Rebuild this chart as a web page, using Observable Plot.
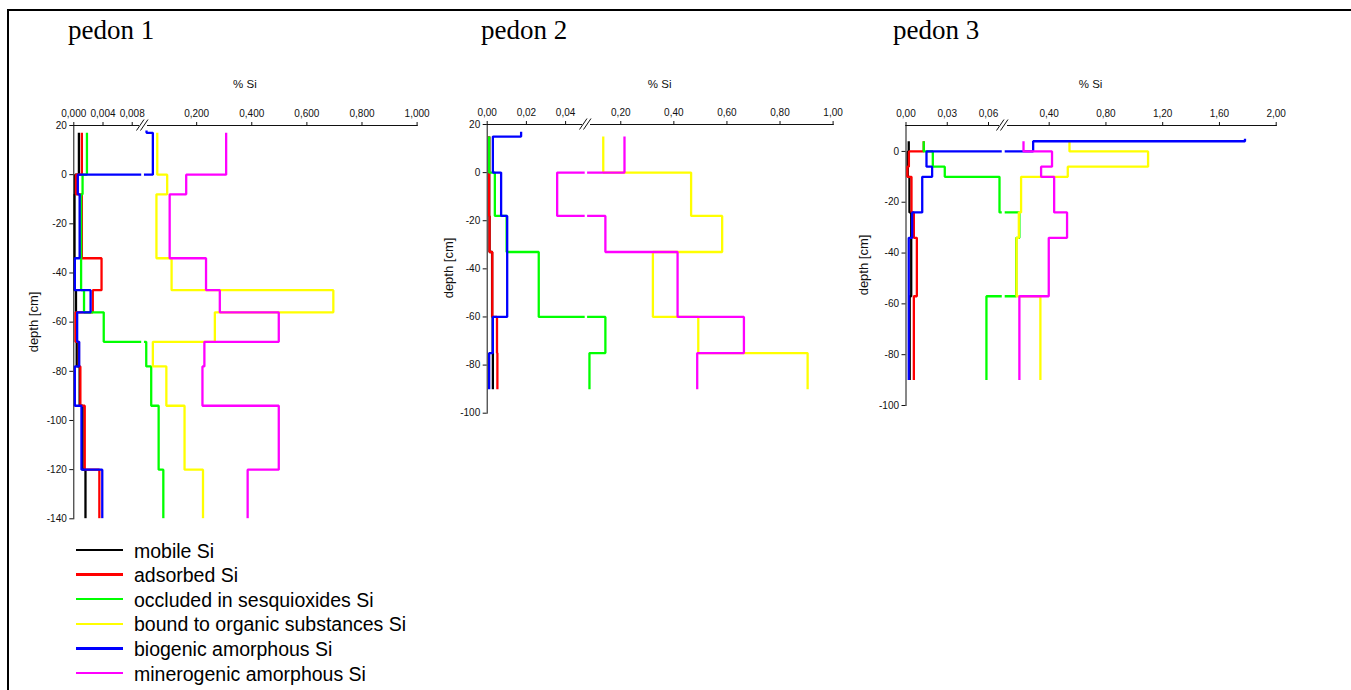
<!DOCTYPE html>
<html>
<head>
<meta charset="utf-8">
<script src="https://cdn.jsdelivr.net/npm/d3@7"></script>
<script src="https://cdn.jsdelivr.net/npm/@observablehq/plot@0.6"></script>
<style>
  html, body { margin: 0; padding: 0; background: #fff; }
  #page { position: relative; width: 1351px; height: 690px; overflow: hidden; background: #fff; }
  #frame { position: absolute; left: 7px; top: 9px; width: 1400px; height: 760px; border: 2px solid #000; box-sizing: border-box; }
  .panel { position: absolute; left: 0; top: 0; }
  .title { position: absolute; font-family: "Liberation Serif", "Times New Roman", serif; font-size: 27px; line-height: 27px; color: #000; white-space: nowrap; }
  .axlabel { position: absolute; font-family: "Liberation Sans", Arial, sans-serif; color: #111; white-space: nowrap; line-height: 1; }
  .lg-line { position: absolute; left: 76px; width: 47px; height: 2.5px; }
  .lg-text { position: absolute; left: 134px; font-family: "Liberation Sans", Arial, sans-serif; font-size: 19.5px; line-height: 20px; color: #000; white-space: nowrap; }
</style>
</head>
<body>
<div id="page">
  <div id="frame"></div>
</div>
<script>
// ---------- series ----------
const series = ["mobile Si", "adsorbed Si", "occluded in sesquioxides Si",
  "bound to organic substances Si", "biogenic amorphous Si", "minerogenic amorphous Si"];
const colors = ["#000000", "#ff0000", "#00ff00", "#ffff00", "#0000ff", "#ff00ff"];
const titles = ["pedon 1", "pedon 2", "pedon 3"];

// ---------- pedon 1 (horizon boundaries, cm; values % Si per horizon) ----------
const depths1 = [18, 17, 0, -8, -34, -47, -56, -68, -78, -94, -120, -140];
const mobile1 = [null, 0.0007, 0.0002, 0.0001, 0.0001, 0.0003, 0.0003, 0.0004, 0.0008, 0.0012, 0.0016];
const adsorbed1 = [null, 0.0011, 0.0003, 0.0011, 0.0038, 0.0026, 0.00024, 0.0007, 0.0009, 0.0015, 0.0035];
const occluded1 = [null, 0.0018, 0.0012, 0.001, 0.001, 0.0014, 0.0041, 0.017, 0.035, 0.062, 0.079];
const bound1 = [null, 0.057, 0.093, 0.054, 0.109, 0.696, 0.266, 0.041, 0.090, 0.156, 0.223];
const biogenic1 = [0.018, 0.041, 0.00055, 0.0008, 0.00014, 0.0023, 0.00046, 0.00074, 0.00014, 0.00105, 0.0039];
const minero1 = [null, 0.307, 0.162, 0.102, 0.234, 0.284, 0.498, 0.228, 0.221, 0.498, 0.385];

// ---------- pedon 2 ----------
const depths2 = [17, 15, 0, -18, -33, -60, -75, -90];
const mobile2 = [null, 0.001, 0.001, 0.0012, 0.0025, 0.0028, 0.0029];
const adsorbed2 = [null, 0.001, 0.001, 0.0012, 0.0026, 0.005, 0.0052];
const occluded2 = [null, 0.001, 0.0039, 0.0099, 0.0263, 0.142, 0.082];
const bound2 = [null, 0.134, 0.465, 0.582, 0.321, 0.492, 0.904];
const biogenic2 = [0.0173, 0.0029, 0.0071, 0.0102, 0.0102, 0.0029, 0.001];
const minero2 = [null, 0.214, 0.0357, 0.142, 0.414, 0.664, 0.488];

// ---------- pedon 3 ----------
const depths3 = [5, 4, 0, -6, -10, -24, -34, -57, -90];
const mobile3 = [null, 0.002, 0.0013, 0.0013, 0.0025, 0.0038, 0.0038, 0.0027];
const adsorbed3 = [null, 0.0129, 0.0021, 0.001, 0.004, 0.0057, 0.0079, 0.0057];
const occluded3 = [null, 0.0129, 0.0195, 0.0282, 0.068, 0.19, 0.168, 0.0585];
const bound3 = [null, 0.543, 1.097, 0.531, 0.202, 0.186, 0.17, 0.338];
const biogenic3 = [1.78, 0.287, 0.0149, 0.019, 0.0118, 0.0045, 0.002, 0.002];
const minero3 = [null, 0.219, 0.42, 0.343, 0.435, 0.526, 0.397, 0.19];

// ---------- axis ticks (low part and high part of each broken x axis) ----------
const xTicksLow1 = [0, 0.004, 0.008];
const xTicksHigh1 = [0.2, 0.4, 0.6, 0.8, 1.0];
const xTicksLow2 = [0, 0.02, 0.04];
const xTicksHigh2 = [0.2, 0.4, 0.6, 0.8, 1.0];
const xTicksLow3 = [0, 0.03, 0.06];
const xTicksHigh3 = [0.4, 0.8, 1.2, 1.6, 2.0];
const yTicks1 = [20, 0, -20, -40, -60, -80, -100, -120, -140];
const yTicks2 = [20, 0, -20, -40, -60, -80, -100];
const yTicks3 = [0, -20, -40, -60, -80, -100];

// ---------- layout ----------
const W = 1351, H = 690;
const panels = [
  { depths: depths1, values: [mobile1, adsorbed1, occluded1, bound1, biogenic1, minero1],
    low: { domain: [0, 0.0093], range: [73.3, 141.2], ticks: xTicksLow1 },
    high: { domain: [0.0105, 1.0], range: [143.95, 416.6], ticks: xTicksHigh1 },
    dec: 3, yDomain: [-140, 20], yTicks: yTicks1, top: 125, bottom: 518.3, labelDx: 40, titleX: 68 },
  { depths: depths2, values: [mobile2, adsorbed2, occluded2, bound2, biogenic2, minero2],
    low: { domain: [0, 0.05], range: [486.7, 584.7], ticks: xTicksLow2 },
    high: { domain: [0.075, 1.0], range: [587.1, 832.6], ticks: xTicksHigh2 },
    dec: 2, yDomain: [-100, 20], yTicks: yTicks2, top: 124, bottom: 412.7, labelDx: 39, titleX: 481 },
  { depths: depths3, values: [mobile3, adsorbed3, occluded3, bound3, biogenic3, minero3],
    low: { domain: [0, 0.07], range: [905.5, 1001.75], ticks: xTicksLow3 },
    high: { domain: [0.09, 2.0], range: [1004.7, 1275.7], ticks: xTicksHigh3 },
    dec: 2, yDomain: [-100, 10.2], yTicks: yTicks3, top: 125, bottom: 405, labelDx: 43, titleX: 893 }
];

const page = document.getElementById("page");
const font = "'Liberation Sans', Arial, sans-serif";

function addDiv(cls, text, css) {
  const d = document.createElement("div");
  d.className = cls;
  if (text != null) d.textContent = text;
  Object.assign(d.style, css);
  page.appendChild(d);
  return d;
}

panels.forEach((p, k) => {
  const data = [];
  p.values.forEach((vals, s) => {
    vals.forEach((v, i) => {
      if (v == null) return;
      data.push({ series: series[s], v, d: p.depths[i] });
      data.push({ series: series[s], v, d: p.depths[i + 1] });
    });
  });

  ["low", "high"].forEach(part => {
    const seg = p[part];
    const [d0, d1] = seg.domain;
    const span = d1 - d0;
    // values outside this part of the broken axis are pushed well beyond the clipped frame
    const xOf = d => d.v < d0 ? d0 - 0.3 * span : d.v > d1 ? d1 + 0.3 * span : d.v;
    const chart = Plot.plot({
      width: W, height: H,
      marginTop: p.top, marginBottom: H - p.bottom,
      marginLeft: seg.range[0], marginRight: W - seg.range[1],
      style: { background: "transparent", fontFamily: font, fontSize: "10px", color: "#111", overflow: "visible" },
      x: { domain: seg.domain, axis: "top", ticks: seg.ticks,
           tickFormat: d => d.toFixed(p.dec).replace(".", ","), tickSize: 4, tickPadding: 5, label: null, line: true },
      y: part === "low"
        ? { domain: p.yDomain, ticks: p.yTicks, tickFormat: d => String(d), tickSize: 4, tickPadding: 3, label: null, line: true }
        : { domain: p.yDomain, axis: null },
      color: { domain: series, range: colors },
      marks: [
        Plot.line(data, { x: xOf, y: "d", z: "series", stroke: "series", strokeWidth: 2.3,
          strokeLinejoin: "miter", strokeLinecap: "butt", clip: true })
      ]
    });
    chart.classList.add("panel");
    page.appendChild(chart);
  });

  // axis break symbol
  const bx = (p.low.range[1] + p.high.range[0]) / 2;
  const ns = "http://www.w3.org/2000/svg";
  const svg = document.createElementNS(ns, "svg");
  svg.setAttribute("width", 20); svg.setAttribute("height", 16);
  svg.style.position = "absolute";
  svg.style.left = (bx - 10) + "px";
  svg.style.top = (p.top - 8) + "px";
  svg.innerHTML = '<rect x="6" y="6" width="8" height="4" fill="white"/>' +
    '<line x1="3.5" y1="13.5" x2="11" y2="2.5" stroke="#111" stroke-width="1"/>' +
    '<line x1="7.5" y1="13.5" x2="15" y2="2.5" stroke="#111" stroke-width="1"/>';
  page.appendChild(svg);

  // axis titles
  const cx = (p.low.range[0] + p.high.range[1]) / 2;
  addDiv("axlabel", "% Si", { fontSize: "11.5px", left: cx + "px", top: "85px", transform: "translate(-50%,-50%)" });
  const cy = (p.top + p.bottom) / 2;
  addDiv("axlabel", "depth [cm]", { fontSize: "13px", left: (p.low.range[0] - p.labelDx) + "px", top: cy + "px",
    transform: "translate(-50%,-50%) rotate(-90deg)" });

  addDiv("title", titles[k], { left: p.titleX + "px", top: "17px" });
});

// ---------- legend ----------
series.forEach((name, i) => {
  const y = 550 + i * 24.6;
  addDiv("lg-line", null, { top: (y - 1.25) + "px", background: colors[i] });
  addDiv("lg-text", name, { top: (y - 9.5) + "px" });
});
</script>
</body>
</html>
